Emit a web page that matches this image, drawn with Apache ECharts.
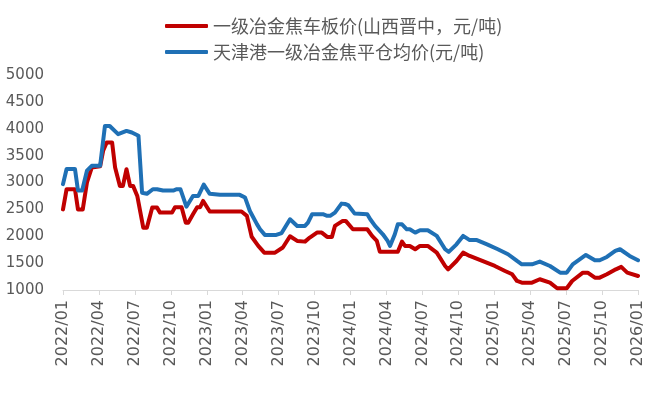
<!DOCTYPE html>
<html>
<head>
<meta charset="utf-8">
<script src="https://cdn.jsdelivr.net/npm/echarts@6/dist/echarts.min.js"></script>
<style>
html,body{margin:0;padding:0;background:#fff;}
#chart{width:652px;height:395px;}
</style>
</head>
<body>
<div id="chart"></div>
<script>
// x positions are months elapsed since 2022/01
var tickLabels = ['2022/01','2022/04','2022/07','2022/10','2023/01','2023/04','2023/07','2023/10',
  '2024/01','2024/04','2024/07','2024/10','2025/01','2025/04','2025/07','2025/10','2026/01'];

var redName = '一级冶金焦车板价(山西晋中，元/吨)';
var blueName = '天津港一级冶金焦平仓均价(元/吨)';

var redMonths = [0.0,0.3,1.0,1.25,1.65,2.0,2.4,3.1,3.35,3.65,4.1,4.35,4.75,5.0,5.3,5.6,5.85,6.2,6.7,7.0,
  7.45,7.85,8.1,9.1,9.35,9.9,10.25,10.45,10.85,11.2,11.45,11.7,12.25,14.9,15.35,15.75,16.3,16.8,17.7,18.35,
  18.95,19.1,19.55,20.2,20.6,21.2,21.6,22.05,22.45,22.7,23.35,23.6,24.2,25.4,25.8,26.2,26.45,27.95,28.3,28.55,
  28.95,29.4,29.8,30.45,31.2,31.9,32.15,32.85,33.4,33.95,35.0,36.05,36.9,37.5,37.9,38.3,39.15,39.8,40.65,41.25,
  42.05,42.5,43.4,43.8,44.4,44.8,45.4,46.15,46.6,47.1,48.0];
var redPrices = [2500,2875,2875,2500,2500,3000,3277,3300,3590,3745,3745,3277,2937,2937,3246,2937,2937,2750,2160,2160,
  2533,2533,2440,2440,2540,2540,2253,2253,2410,2540,2540,2657,2460,2460,2380,1990,1820,1695,1695,1790,
  2000,2000,1913,1900,1975,2068,2068,1988,1988,2192,2285,2285,2130,2130,2006,1913,1710,1710,1900,1820,
  1820,1758,1820,1820,1695,1447,1385,1540,1695,1633,1540,1447,1354,1292,1168,1137,1137,1200,1137,1032,
  1032,1168,1323,1323,1230,1230,1292,1385,1430,1323,1260];

var blueMonths = [0.0,0.3,1.0,1.25,1.6,2.0,2.4,3.1,3.25,3.5,3.9,4.6,5.3,5.75,6.3,6.6,7.0,7.5,7.85,8.35,
  9.2,9.5,9.8,10.3,10.85,11.3,11.75,12.25,13.1,14.75,15.2,15.6,16.2,16.45,16.85,17.8,18.25,18.95,19.1,19.55,
  20.2,20.45,20.8,21.7,22.05,22.3,22.7,23.25,23.55,23.8,24.35,25.4,25.65,26.05,26.7,27.1,27.3,27.7,27.95,28.3,
  28.7,28.95,29.4,29.8,30.45,31.2,31.9,32.2,32.85,33.4,33.95,34.55,35.4,36.3,37.15,37.9,38.3,39.15,39.8,40.65,
  41.5,42.05,42.55,43.65,44.4,44.8,45.4,46.1,46.5,47.3,48.0];
var bluePrices = [2970,3250,3250,2850,2850,3220,3310,3310,3340,4050,4050,3900,3960,3930,3870,2810,2790,2875,2875,2850,
  2850,2875,2875,2550,2750,2750,2960,2790,2770,2770,2720,2470,2220,2130,2025,2025,2060,2316,2316,2192,
  2192,2254,2410,2410,2380,2380,2440,2607,2600,2580,2421,2410,2316,2192,2037,1913,1820,2037,2223,2223,
  2130,2130,2068,2112,2112,2006,1758,1708,1850,2006,1928,1928,1850,1758,1665,1540,1478,1478,1528,1447,
  1323,1323,1478,1652,1553,1553,1615,1727,1758,1633,1553];

function pairs(xs, ys){ var out=[]; for(var i=0;i<xs.length;i++){ out.push([xs[i], ys[i]]); } return out; }

var labelColor = '#595959';
var chart = echarts.init(document.getElementById('chart'), null, {renderer:'canvas'});
chart.setOption({
  animation: false,
  backgroundColor: '#ffffff',
  legend: {
    orient: 'vertical',
    left: 160,
    top: 12,
    itemWidth: 43,
    itemHeight: 4,
    itemGap: 8,
    icon: 'roundRect',
    textStyle: { color: labelColor, fontSize: 18, fontFamily: 'Noto Sans CJK SC' },
    data: [redName, blueName]
  },
  grid: { left: 63, right: 14, top: 75, bottom: 105, containLabel: false },
  xAxis: {
    type: 'value',
    min: 0, max: 48, interval: 3,
    splitLine: { show: false },
    axisLine: { show: true, lineStyle: { color: '#D9D9D9', width: 1 } },
    axisTick: { show: true, length: 5, lineStyle: { color: '#D9D9D9' } },
    axisLabel: {
      rotate: 90, margin: 10, color: labelColor, fontSize: 16, fontFamily: 'DejaVu Sans',
      formatter: function(v){ return tickLabels[Math.round(v/3)] || ''; }
    }
  },
  yAxis: {
    type: 'value',
    min: 1000, max: 5000, interval: 500,
    splitLine: { show: false },
    axisLine: { show: false },
    axisTick: { show: false },
    axisLabel: { margin: 19, color: labelColor, fontSize: 15, fontFamily: 'DejaVu Sans',
      formatter: function(v){ return String(v); } }
  },
  series: [
    { name: redName, type: 'line', data: pairs(redMonths, redPrices), showSymbol: false, symbol: 'none',
      lineStyle: { color: '#C00000', width: 4, cap: 'round', join: 'round' }, itemStyle: { color: '#C00000' } },
    { name: blueName, type: 'line', data: pairs(blueMonths, bluePrices), showSymbol: false, symbol: 'none',
      lineStyle: { color: '#1F70B5', width: 4, cap: 'round', join: 'round' }, itemStyle: { color: '#1F70B5' } }
  ]
});
</script>
</body>
</html>
